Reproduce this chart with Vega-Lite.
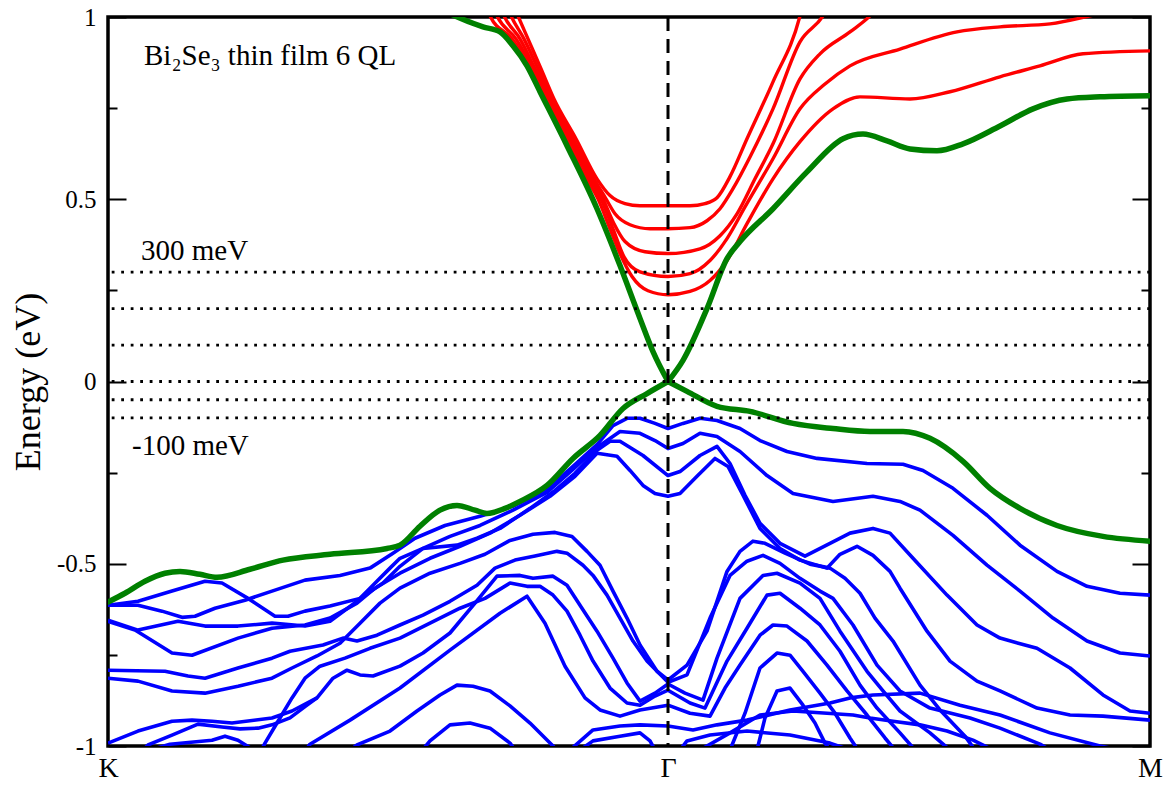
{
"$schema":"https://vega.github.io/schema/vega-lite/v6.json",
"width":1042,"height":729,"autosize":"none",
"padding":{"left":108,"top":17,"right":15,"bottom":40},
"background":"white",
"config":{"view":{"stroke":"black","strokeWidth":3.5},"font":"Liberation Serif"},
"datasets":{
"green":[
{"b":"g1a","k":0,"E":-0.605},{"b":"g1a","k":17,"E":-0.581},{"b":"g1a","k":37,"E":-0.548},{"b":"g1a","k":57,"E":-0.526},{"b":"g1a","k":72,"E":-0.521},{"b":"g1a","k":92,"E":-0.529},{"b":"g1a","k":109,"E":-0.537},{"b":"g1a","k":142,"E":-0.515},{"b":"g1a","k":175,"E":-0.49},{"b":"g1a","k":222,"E":-0.474},{"b":"g1a","k":279,"E":-0.458},{"b":"g1a","k":292,"E":-0.449},{"b":"g1a","k":312,"E":-0.397},{"b":"g1a","k":332,"E":-0.353},{"b":"g1a","k":349,"E":-0.34},{"b":"g1a","k":367,"E":-0.353},{"b":"g1a","k":379,"E":-0.362},{"b":"g1a","k":397,"E":-0.348},{"b":"g1a","k":412,"E":-0.329},{"b":"g1a","k":439,"E":-0.285},{"b":"g1a","k":465,"E":-0.211},{"b":"g1a","k":492,"E":-0.148},{"b":"g1a","k":515,"E":-0.074},{"b":"g1a","k":539,"E":-0.033},{"b":"g1a","k":560,"E":0},
{"b":"g1b","k":560,"E":0},{"b":"g1b","k":579,"E":-0.027},{"b":"g1b","k":609,"E":-0.068},{"b":"g1b","k":642,"E":-0.082},{"b":"g1b","k":685,"E":-0.115},{"b":"g1b","k":725,"E":-0.129},{"b":"g1b","k":762,"E":-0.137},{"b":"g1b","k":795,"E":-0.137},{"b":"g1b","k":822,"E":-0.156},{"b":"g1b","k":855,"E":-0.219},{"b":"g1b","k":882,"E":-0.293},{"b":"g1b","k":912,"E":-0.348},{"b":"g1b","k":949,"E":-0.395},{"b":"g1b","k":995,"E":-0.425},{"b":"g1b","k":1042,"E":-0.438},
{"b":"g2a","k":337,"E":1.016},{"b":"g2a","k":347,"E":1.003},{"b":"g2a","k":375,"E":0.973},{"b":"g2a","k":392,"E":0.959},{"b":"g2a","k":405,"E":0.921},{"b":"g2a","k":419,"E":0.866},{"b":"g2a","k":432,"E":0.795},{"b":"g2a","k":459,"E":0.647},{"b":"g2a","k":489,"E":0.474},{"b":"g2a","k":512,"E":0.318},{"b":"g2a","k":532,"E":0.173},{"b":"g2a","k":545,"E":0.082},{"b":"g2a","k":560,"E":0},
{"b":"g2b","k":560,"E":0},{"b":"g2b","k":575,"E":0.058},{"b":"g2b","k":599,"E":0.2},{"b":"g2b","k":619,"E":0.337},{"b":"g2b","k":632,"E":0.384},{"b":"g2b","k":665,"E":0.474},{"b":"g2b","k":699,"E":0.575},{"b":"g2b","k":735,"E":0.666},{"b":"g2b","k":755,"E":0.679},{"b":"g2b","k":779,"E":0.66},{"b":"g2b","k":802,"E":0.638},{"b":"g2b","k":829,"E":0.633},{"b":"g2b","k":855,"E":0.652},{"b":"g2b","k":892,"E":0.701},{"b":"g2b","k":925,"E":0.748},{"b":"g2b","k":959,"E":0.775},{"b":"g2b","k":992,"E":0.781},{"b":"g2b","k":1042,"E":0.784}
],
"red":[
{"b":"r1","k":405,"E":1.036},{"b":"r1","k":410,"E":1.003},{"b":"r1","k":420,"E":0.94},{"b":"r1","k":433,"E":0.858},{"b":"r1","k":446,"E":0.775},{"b":"r1","k":468,"E":0.666},{"b":"r1","k":489,"E":0.556},{"b":"r1","k":502,"E":0.51},{"b":"r1","k":517,"E":0.488},{"b":"r1","k":532,"E":0.482},{"b":"r1","k":560,"E":0.482},{"b":"r1","k":582,"E":0.482},{"b":"r1","k":597,"E":0.488},{"b":"r1","k":609,"E":0.504},{"b":"r1","k":622,"E":0.562},{"b":"r1","k":639,"E":0.666},{"b":"r1","k":665,"E":0.822},{"b":"r1","k":692,"E":1.003},{"b":"r1","k":695,"E":1.036},
{"b":"r2","k":398,"E":1.036},{"b":"r2","k":403,"E":1.003},{"b":"r2","k":416,"E":0.94},{"b":"r2","k":430,"E":0.858},{"b":"r2","k":444,"E":0.775},{"b":"r2","k":465,"E":0.666},{"b":"r2","k":486,"E":0.556},{"b":"r2","k":498,"E":0.501},{"b":"r2","k":507,"E":0.46},{"b":"r2","k":522,"E":0.43},{"b":"r2","k":542,"E":0.419},{"b":"r2","k":560,"E":0.419},{"b":"r2","k":582,"E":0.422},{"b":"r2","k":599,"E":0.441},{"b":"r2","k":612,"E":0.474},{"b":"r2","k":625,"E":0.529},{"b":"r2","k":642,"E":0.616},{"b":"r2","k":665,"E":0.748},{"b":"r2","k":692,"E":0.932},{"b":"r2","k":715,"E":1.003},{"b":"r2","k":720,"E":1.027},
{"b":"r3","k":391,"E":1.036},{"b":"r3","k":396,"E":1.003},{"b":"r3","k":412,"E":0.94},{"b":"r3","k":427,"E":0.858},{"b":"r3","k":442,"E":0.775},{"b":"r3","k":463,"E":0.666},{"b":"r3","k":484,"E":0.556},{"b":"r3","k":495,"E":0.501},{"b":"r3","k":506,"E":0.433},{"b":"r3","k":517,"E":0.384},{"b":"r3","k":537,"E":0.356},{"b":"r3","k":560,"E":0.351},{"b":"r3","k":592,"E":0.364},{"b":"r3","k":612,"E":0.4},{"b":"r3","k":629,"E":0.46},{"b":"r3","k":647,"E":0.556},{"b":"r3","k":665,"E":0.652},{"b":"r3","k":692,"E":0.83},{"b":"r3","k":712,"E":0.899},{"b":"r3","k":742,"E":0.959},{"b":"r3","k":762,"E":1.003},{"b":"r3","k":770,"E":1.027},
{"b":"r4","k":384,"E":1.036},{"b":"r4","k":389,"E":1.003},{"b":"r4","k":408,"E":0.94},{"b":"r4","k":425,"E":0.858},{"b":"r4","k":440,"E":0.775},{"b":"r4","k":461,"E":0.666},{"b":"r4","k":482,"E":0.556},{"b":"r4","k":493,"E":0.501},{"b":"r4","k":505,"E":0.419},{"b":"r4","k":516,"E":0.342},{"b":"r4","k":532,"E":0.301},{"b":"r4","k":560,"E":0.288},{"b":"r4","k":582,"E":0.296},{"b":"r4","k":602,"E":0.332},{"b":"r4","k":619,"E":0.392},{"b":"r4","k":637,"E":0.479},{"b":"r4","k":665,"E":0.611},{"b":"r4","k":692,"E":0.748},{"b":"r4","k":717,"E":0.816},{"b":"r4","k":742,"E":0.866},{"b":"r4","k":792,"E":0.912},{"b":"r4","k":849,"E":0.959},{"b":"r4","k":892,"E":0.973},{"b":"r4","k":942,"E":0.981},{"b":"r4","k":982,"E":1.003},{"b":"r4","k":1002,"E":1.016},
{"b":"r5","k":377,"E":1.036},{"b":"r5","k":382,"E":1.003},{"b":"r5","k":404,"E":0.94},{"b":"r5","k":423,"E":0.858},{"b":"r5","k":438,"E":0.775},{"b":"r5","k":458,"E":0.666},{"b":"r5","k":479,"E":0.556},{"b":"r5","k":490,"E":0.501},{"b":"r5","k":502,"E":0.419},{"b":"r5","k":512,"E":0.351},{"b":"r5","k":524,"E":0.288},{"b":"r5","k":540,"E":0.249},{"b":"r5","k":560,"E":0.238},{"b":"r5","k":582,"E":0.247},{"b":"r5","k":602,"E":0.277},{"b":"r5","k":619,"E":0.332},{"b":"r5","k":639,"E":0.433},{"b":"r5","k":665,"E":0.556},{"b":"r5","k":692,"E":0.658},{"b":"r5","k":725,"E":0.748},{"b":"r5","k":752,"E":0.781},{"b":"r5","k":802,"E":0.775},{"b":"r5","k":842,"E":0.795},{"b":"r5","k":892,"E":0.836},{"b":"r5","k":932,"E":0.866},{"b":"r5","k":975,"E":0.899},{"b":"r5","k":1042,"E":0.907}
],
"blue":[
{"b":"b1","k":0,"E":-0.614},{"b":"b1","k":30,"E":-0.614},{"b":"b1","k":54,"E":-0.63},{"b":"b1","k":74,"E":-0.647},{"b":"b1","k":87,"E":-0.644},{"b":"b1","k":107,"E":-0.622},{"b":"b1","k":137,"E":-0.6},{"b":"b1","k":164,"E":-0.575},{"b":"b1","k":197,"E":-0.545},{"b":"b1","k":232,"E":-0.532},{"b":"b1","k":262,"E":-0.512},{"b":"b1","k":285,"E":-0.471},{"b":"b1","k":307,"E":-0.43},{"b":"b1","k":337,"E":-0.395},{"b":"b1","k":372,"E":-0.37},{"b":"b1","k":405,"E":-0.342},{"b":"b1","k":439,"E":-0.296},{"b":"b1","k":465,"E":-0.233},{"b":"b1","k":489,"E":-0.173},{"b":"b1","k":505,"E":-0.121},{"b":"b1","k":519,"E":-0.101},{"b":"b1","k":532,"E":-0.101},{"b":"b1","k":547,"E":-0.115},{"b":"b1","k":560,"E":-0.129},{"b":"b1","k":575,"E":-0.115},{"b":"b1","k":592,"E":-0.101},{"b":"b1","k":609,"E":-0.107},{"b":"b1","k":632,"E":-0.129},{"b":"b1","k":652,"E":-0.162},{"b":"b1","k":679,"E":-0.192},{"b":"b1","k":709,"E":-0.211},{"b":"b1","k":759,"E":-0.225},{"b":"b1","k":795,"E":-0.227},{"b":"b1","k":815,"E":-0.244},{"b":"b1","k":845,"E":-0.293},{"b":"b1","k":879,"E":-0.367},{"b":"b1","k":912,"E":-0.449},{"b":"b1","k":949,"E":-0.521},{"b":"b1","k":979,"E":-0.562},{"b":"b1","k":1012,"E":-0.581},{"b":"b1","k":1042,"E":-0.586},
{"b":"b2","k":0,"E":-0.614},{"b":"b2","k":30,"E":-0.603},{"b":"b2","k":64,"E":-0.575},{"b":"b2","k":97,"E":-0.548},{"b":"b2","k":114,"E":-0.553},{"b":"b2","k":140,"E":-0.595},{"b":"b2","k":167,"E":-0.644},{"b":"b2","k":180,"E":-0.644},{"b":"b2","k":197,"E":-0.63},{"b":"b2","k":222,"E":-0.616},{"b":"b2","k":252,"E":-0.595},{"b":"b2","k":275,"E":-0.553},{"b":"b2","k":292,"E":-0.507},{"b":"b2","k":315,"E":-0.458},{"b":"b2","k":342,"E":-0.425},{"b":"b2","k":372,"E":-0.395},{"b":"b2","k":405,"E":-0.353},{"b":"b2","k":439,"E":-0.304},{"b":"b2","k":465,"E":-0.241},{"b":"b2","k":489,"E":-0.181},{"b":"b2","k":512,"E":-0.137},{"b":"b2","k":532,"E":-0.142},{"b":"b2","k":547,"E":-0.162},{"b":"b2","k":560,"E":-0.184},{"b":"b2","k":575,"E":-0.17},{"b":"b2","k":592,"E":-0.142},{"b":"b2","k":609,"E":-0.151},{"b":"b2","k":632,"E":-0.192},{"b":"b2","k":659,"E":-0.258},{"b":"b2","k":685,"E":-0.307},{"b":"b2","k":725,"E":-0.329},{"b":"b2","k":765,"E":-0.315},{"b":"b2","k":792,"E":-0.329},{"b":"b2","k":812,"E":-0.353},{"b":"b2","k":845,"E":-0.422},{"b":"b2","k":879,"E":-0.504},{"b":"b2","k":912,"E":-0.575},{"b":"b2","k":945,"E":-0.649},{"b":"b2","k":979,"E":-0.712},{"b":"b2","k":1012,"E":-0.745},{"b":"b2","k":1042,"E":-0.753},
{"b":"b3","k":0,"E":-0.655},{"b":"b3","k":30,"E":-0.682},{"b":"b3","k":70,"E":-0.658},{"b":"b3","k":97,"E":-0.671},{"b":"b3","k":130,"E":-0.671},{"b":"b3","k":164,"E":-0.663},{"b":"b3","k":197,"E":-0.671},{"b":"b3","k":222,"E":-0.658},{"b":"b3","k":249,"E":-0.603},{"b":"b3","k":262,"E":-0.567},{"b":"b3","k":282,"E":-0.512},{"b":"b3","k":292,"E":-0.485},{"b":"b3","k":315,"E":-0.458},{"b":"b3","k":349,"E":-0.449},{"b":"b3","k":369,"E":-0.43},{"b":"b3","k":392,"E":-0.403},{"b":"b3","k":422,"E":-0.348},{"b":"b3","k":447,"E":-0.299},{"b":"b3","k":467,"E":-0.252},{"b":"b3","k":489,"E":-0.189},{"b":"b3","k":502,"E":-0.164},{"b":"b3","k":512,"E":-0.164},{"b":"b3","k":535,"E":-0.203},{"b":"b3","k":560,"E":-0.258},{"b":"b3","k":572,"E":-0.247},{"b":"b3","k":592,"E":-0.203},{"b":"b3","k":609,"E":-0.178},{"b":"b3","k":622,"E":-0.225},{"b":"b3","k":637,"E":-0.312},{"b":"b3","k":652,"E":-0.389},{"b":"b3","k":672,"E":-0.444},{"b":"b3","k":697,"E":-0.479},{"b":"b3","k":722,"E":-0.444},{"b":"b3","k":742,"E":-0.416},{"b":"b3","k":765,"E":-0.403},{"b":"b3","k":782,"E":-0.416},{"b":"b3","k":805,"E":-0.485},{"b":"b3","k":839,"E":-0.586},{"b":"b3","k":869,"E":-0.668},{"b":"b3","k":892,"E":-0.704},{"b":"b3","k":929,"E":-0.732},{"b":"b3","k":962,"E":-0.786},{"b":"b3","k":995,"E":-0.86},{"b":"b3","k":1022,"E":-0.904},{"b":"b3","k":1042,"E":-0.91},
{"b":"b4","k":0,"E":-0.658},{"b":"b4","k":27,"E":-0.682},{"b":"b4","k":64,"E":-0.745},{"b":"b4","k":84,"E":-0.751},{"b":"b4","k":130,"E":-0.704},{"b":"b4","k":164,"E":-0.677},{"b":"b4","k":197,"E":-0.668},{"b":"b4","k":222,"E":-0.649},{"b":"b4","k":249,"E":-0.608},{"b":"b4","k":267,"E":-0.567},{"b":"b4","k":292,"E":-0.526},{"b":"b4","k":322,"E":-0.485},{"b":"b4","k":352,"E":-0.452},{"b":"b4","k":382,"E":-0.416},{"b":"b4","k":412,"E":-0.367},{"b":"b4","k":442,"E":-0.315},{"b":"b4","k":467,"E":-0.26},{"b":"b4","k":489,"E":-0.197},{"b":"b4","k":509,"E":-0.205},{"b":"b4","k":522,"E":-0.244},{"b":"b4","k":535,"E":-0.285},{"b":"b4","k":547,"E":-0.307},{"b":"b4","k":560,"E":-0.315},{"b":"b4","k":572,"E":-0.307},{"b":"b4","k":589,"E":-0.26},{"b":"b4","k":607,"E":-0.211},{"b":"b4","k":620,"E":-0.233},{"b":"b4","k":635,"E":-0.312},{"b":"b4","k":652,"E":-0.403},{"b":"b4","k":672,"E":-0.458},{"b":"b4","k":692,"E":-0.49},{"b":"b4","k":719,"E":-0.512},{"b":"b4","k":732,"E":-0.474},{"b":"b4","k":749,"E":-0.452},{"b":"b4","k":765,"E":-0.477},{"b":"b4","k":782,"E":-0.521},{"b":"b4","k":792,"E":-0.567},{"b":"b4","k":819,"E":-0.685},{"b":"b4","k":842,"E":-0.767},{"b":"b4","k":869,"E":-0.822},{"b":"b4","k":892,"E":-0.849},{"b":"b4","k":929,"E":-0.896},{"b":"b4","k":962,"E":-0.915},{"b":"b4","k":995,"E":-0.918},{"b":"b4","k":1042,"E":-0.929},
{"b":"b5","k":0,"E":-0.792},{"b":"b5","k":57,"E":-0.795},{"b":"b5","k":80,"E":-0.808},{"b":"b5","k":97,"E":-0.814},{"b":"b5","k":130,"E":-0.786},{"b":"b5","k":164,"E":-0.759},{"b":"b5","k":182,"E":-0.74},{"b":"b5","k":215,"E":-0.723},{"b":"b5","k":235,"E":-0.704},{"b":"b5","k":249,"E":-0.712},{"b":"b5","k":269,"E":-0.696},{"b":"b5","k":292,"E":-0.668},{"b":"b5","k":315,"E":-0.641},{"b":"b5","k":342,"E":-0.603},{"b":"b5","k":369,"E":-0.559},{"b":"b5","k":387,"E":-0.512},{"b":"b5","k":407,"E":-0.49},{"b":"b5","k":427,"E":-0.479},{"b":"b5","k":449,"E":-0.466},{"b":"b5","k":459,"E":-0.471},{"b":"b5","k":475,"E":-0.504},{"b":"b5","k":485,"E":-0.532},{"b":"b5","k":499,"E":-0.586},{"b":"b5","k":512,"E":-0.649},{"b":"b5","k":525,"E":-0.712},{"b":"b5","k":539,"E":-0.767},{"b":"b5","k":560,"E":-0.825},{"b":"b5","k":579,"E":-0.805},{"b":"b5","k":602,"E":-0.649},{"b":"b5","k":622,"E":-0.532},{"b":"b5","k":639,"E":-0.493},{"b":"b5","k":655,"E":-0.477},{"b":"b5","k":672,"E":-0.499},{"b":"b5","k":692,"E":-0.54},{"b":"b5","k":712,"E":-0.575},{"b":"b5","k":725,"E":-0.595},{"b":"b5","k":745,"E":-0.668},{"b":"b5","k":769,"E":-0.778},{"b":"b5","k":792,"E":-0.849},{"b":"b5","k":822,"E":-0.896},{"b":"b5","k":862,"E":-0.923},{"b":"b5","k":892,"E":-0.951},{"b":"b5","k":932,"E":-0.995},{"b":"b5","k":942,"E":-1.011},
{"b":"b6","k":0,"E":-0.814},{"b":"b6","k":30,"E":-0.822},{"b":"b6","k":64,"E":-0.849},{"b":"b6","k":97,"E":-0.855},{"b":"b6","k":130,"E":-0.836},{"b":"b6","k":164,"E":-0.814},{"b":"b6","k":184,"E":-0.786},{"b":"b6","k":209,"E":-0.753},{"b":"b6","k":232,"E":-0.718},{"b":"b6","k":252,"E":-0.663},{"b":"b6","k":272,"E":-0.608},{"b":"b6","k":292,"E":-0.567},{"b":"b6","k":322,"E":-0.526},{"b":"b6","k":352,"E":-0.499},{"b":"b6","k":377,"E":-0.474},{"b":"b6","k":402,"E":-0.436},{"b":"b6","k":425,"E":-0.419},{"b":"b6","k":447,"E":-0.414},{"b":"b6","k":464,"E":-0.425},{"b":"b6","k":479,"E":-0.466},{"b":"b6","k":492,"E":-0.504},{"b":"b6","k":505,"E":-0.575},{"b":"b6","k":519,"E":-0.649},{"b":"b6","k":532,"E":-0.723},{"b":"b6","k":549,"E":-0.795},{"b":"b6","k":560,"E":-0.819},{"b":"b6","k":579,"E":-0.778},{"b":"b6","k":599,"E":-0.685},{"b":"b6","k":619,"E":-0.521},{"b":"b6","k":632,"E":-0.466},{"b":"b6","k":645,"E":-0.438},{"b":"b6","k":657,"E":-0.444},{"b":"b6","k":677,"E":-0.471},{"b":"b6","k":702,"E":-0.501},{"b":"b6","k":722,"E":-0.512},{"b":"b6","k":737,"E":-0.54},{"b":"b6","k":752,"E":-0.581},{"b":"b6","k":767,"E":-0.649},{"b":"b6","k":785,"E":-0.712},{"b":"b6","k":812,"E":-0.833},{"b":"b6","k":832,"E":-0.901},{"b":"b6","k":857,"E":-0.973},{"b":"b6","k":867,"E":-1.011},
{"b":"b7","k":0,"E":-0.992},{"b":"b7","k":30,"E":-0.959},{"b":"b7","k":64,"E":-0.932},{"b":"b7","k":84,"E":-0.929},{"b":"b7","k":104,"E":-0.932},{"b":"b7","k":124,"E":-0.937},{"b":"b7","k":164,"E":-0.923},{"b":"b7","k":184,"E":-0.904},{"b":"b7","k":209,"E":-0.868},{"b":"b7","k":225,"E":-0.814},{"b":"b7","k":239,"E":-0.792},{"b":"b7","k":252,"E":-0.805},{"b":"b7","k":265,"E":-0.808},{"b":"b7","k":292,"E":-0.781},{"b":"b7","k":315,"E":-0.745},{"b":"b7","k":342,"E":-0.69},{"b":"b7","k":367,"E":-0.608},{"b":"b7","k":389,"E":-0.534},{"b":"b7","k":412,"E":-0.532},{"b":"b7","k":425,"E":-0.54},{"b":"b7","k":445,"E":-0.534},{"b":"b7","k":459,"E":-0.559},{"b":"b7","k":472,"E":-0.614},{"b":"b7","k":489,"E":-0.685},{"b":"b7","k":505,"E":-0.759},{"b":"b7","k":519,"E":-0.827},{"b":"b7","k":532,"E":-0.877},{"b":"b7","k":547,"E":-0.855},{"b":"b7","k":560,"E":-0.83},{"b":"b7","k":577,"E":-0.855},{"b":"b7","k":595,"E":-0.874},{"b":"b7","k":609,"E":-0.759},{"b":"b7","k":632,"E":-0.595},{"b":"b7","k":655,"E":-0.532},{"b":"b7","k":669,"E":-0.526},{"b":"b7","k":692,"E":-0.553},{"b":"b7","k":712,"E":-0.595},{"b":"b7","k":732,"E":-0.685},{"b":"b7","k":759,"E":-0.795},{"b":"b7","k":775,"E":-0.849},{"b":"b7","k":792,"E":-0.904},{"b":"b7","k":822,"E":-0.964},{"b":"b7","k":842,"E":-1.011},
{"b":"b8","k":152,"E":-1.019},{"b":"b8","k":157,"E":-0.992},{"b":"b8","k":170,"E":-0.932},{"b":"b8","k":184,"E":-0.868},{"b":"b8","k":197,"E":-0.814},{"b":"b8","k":212,"E":-0.781},{"b":"b8","k":237,"E":-0.759},{"b":"b8","k":262,"E":-0.732},{"b":"b8","k":292,"E":-0.704},{"b":"b8","k":322,"E":-0.663},{"b":"b8","k":352,"E":-0.622},{"b":"b8","k":377,"E":-0.595},{"b":"b8","k":402,"E":-0.553},{"b":"b8","k":419,"E":-0.562},{"b":"b8","k":432,"E":-0.562},{"b":"b8","k":445,"E":-0.586},{"b":"b8","k":459,"E":-0.63},{"b":"b8","k":472,"E":-0.696},{"b":"b8","k":485,"E":-0.767},{"b":"b8","k":502,"E":-0.841},{"b":"b8","k":519,"E":-0.882},{"b":"b8","k":532,"E":-0.888},{"b":"b8","k":547,"E":-0.863},{"b":"b8","k":560,"E":-0.847},{"b":"b8","k":582,"E":-0.882},{"b":"b8","k":597,"E":-0.896},{"b":"b8","k":619,"E":-0.767},{"b":"b8","k":639,"E":-0.677},{"b":"b8","k":659,"E":-0.586},{"b":"b8","k":672,"E":-0.581},{"b":"b8","k":692,"E":-0.622},{"b":"b8","k":712,"E":-0.668},{"b":"b8","k":732,"E":-0.74},{"b":"b8","k":752,"E":-0.833},{"b":"b8","k":769,"E":-0.896},{"b":"b8","k":792,"E":-0.964},{"b":"b8","k":807,"E":-1.011},
{"b":"b9","k":192,"E":-1.033},{"b":"b9","k":202,"E":-0.995},{"b":"b9","k":242,"E":-0.929},{"b":"b9","k":292,"E":-0.841},{"b":"b9","k":342,"E":-0.737},{"b":"b9","k":392,"E":-0.636},{"b":"b9","k":419,"E":-0.589},{"b":"b9","k":437,"E":-0.663},{"b":"b9","k":457,"E":-0.781},{"b":"b9","k":477,"E":-0.868},{"b":"b9","k":492,"E":-0.901},{"b":"b9","k":512,"E":-0.918},{"b":"b9","k":532,"E":-0.901},{"b":"b9","k":560,"E":-0.888},{"b":"b9","k":582,"E":-0.91},{"b":"b9","k":602,"E":-0.918},{"b":"b9","k":617,"E":-0.841},{"b":"b9","k":632,"E":-0.778},{"b":"b9","k":652,"E":-0.696},{"b":"b9","k":665,"E":-0.668},{"b":"b9","k":679,"E":-0.671},{"b":"b9","k":699,"E":-0.712},{"b":"b9","k":719,"E":-0.778},{"b":"b9","k":739,"E":-0.849},{"b":"b9","k":759,"E":-0.915},{"b":"b9","k":777,"E":-0.978},{"b":"b9","k":787,"E":-1.011},
{"b":"b10","k":232,"E":-1.033},{"b":"b10","k":249,"E":-0.997},{"b":"b10","k":282,"E":-0.959},{"b":"b10","k":309,"E":-0.904},{"b":"b10","k":332,"E":-0.86},{"b":"b10","k":349,"E":-0.833},{"b":"b10","k":365,"E":-0.836},{"b":"b10","k":382,"E":-0.849},{"b":"b10","k":402,"E":-0.89},{"b":"b10","k":422,"E":-0.937},{"b":"b10","k":442,"E":-0.992},{"b":"b10","k":452,"E":-1.019},
{"b":"b11","k":312,"E":-1.019},{"b":"b11","k":322,"E":-0.986},{"b":"b11","k":342,"E":-0.942},{"b":"b11","k":362,"E":-0.937},{"b":"b11","k":382,"E":-0.951},{"b":"b11","k":402,"E":-0.992},{"b":"b11","k":407,"E":-1.011},
{"b":"b12","k":32,"E":-1.019},{"b":"b12","k":40,"E":-0.997},{"b":"b12","k":64,"E":-0.97},{"b":"b12","k":90,"E":-0.94},{"b":"b12","k":114,"E":-0.948},{"b":"b12","k":132,"E":-0.953},{"b":"b12","k":150,"E":-0.951},{"b":"b12","k":164,"E":-0.942},{"b":"b12","k":182,"E":-0.923},{"b":"b12","k":198,"E":-0.89},{"b":"b12","k":209,"E":-0.868},
{"b":"b13","k":42,"E":-1.011},{"b":"b13","k":62,"E":-0.995},{"b":"b13","k":104,"E":-0.984},{"b":"b13","k":117,"E":-0.973},{"b":"b13","k":130,"E":-0.984},{"b":"b13","k":142,"E":-1.005},
{"b":"b16","k":462,"E":-1.011},{"b":"b16","k":485,"E":-0.956},{"b":"b16","k":512,"E":-0.945},{"b":"b16","k":532,"E":-0.942},{"b":"b16","k":560,"E":-0.945},{"b":"b16","k":585,"E":-0.956},{"b":"b16","k":609,"E":-0.942},{"b":"b16","k":639,"E":-0.929},{"b":"b16","k":682,"E":-0.901},{"b":"b16","k":722,"E":-0.882},{"b":"b16","k":742,"E":-0.868},{"b":"b16","k":765,"E":-0.86},{"b":"b16","k":812,"E":-0.855},{"b":"b16","k":852,"E":-0.888},{"b":"b16","k":892,"E":-0.915},{"b":"b16","k":942,"E":-0.964},{"b":"b16","k":992,"E":-1.0},{"b":"b16","k":1012,"E":-1.011},
{"b":"b17","k":592,"E":-1.011},{"b":"b17","k":622,"E":-0.964},{"b":"b17","k":652,"E":-0.915},{"b":"b17","k":685,"E":-0.904},{"b":"b17","k":719,"E":-0.91},{"b":"b17","k":745,"E":-0.915},{"b":"b17","k":762,"E":-0.923},{"b":"b17","k":785,"E":-0.932},{"b":"b17","k":812,"E":-0.942},{"b":"b17","k":839,"E":-0.959},{"b":"b17","k":865,"E":-0.984},{"b":"b17","k":885,"E":-1.011},
{"b":"b19","k":472,"E":-1.011},{"b":"b19","k":485,"E":-0.986},{"b":"b19","k":512,"E":-0.973},{"b":"b19","k":532,"E":-0.964},{"b":"b19","k":542,"E":-0.986},{"b":"b19","k":547,"E":-1.011},
{"b":"b20","k":572,"E":-1.011},{"b":"b20","k":579,"E":-0.986},{"b":"b20","k":602,"E":-0.97},{"b":"b20","k":639,"E":-0.959},{"b":"b20","k":682,"E":-0.97},{"b":"b20","k":722,"E":-0.992},{"b":"b20","k":742,"E":-1.011},
{"b":"b21","k":622,"E":-1.011},{"b":"b21","k":637,"E":-0.91},{"b":"b21","k":652,"E":-0.786},{"b":"b21","k":669,"E":-0.745},{"b":"b21","k":682,"E":-0.751},{"b":"b21","k":695,"E":-0.795},{"b":"b21","k":712,"E":-0.855},{"b":"b21","k":727,"E":-0.91},{"b":"b21","k":742,"E":-0.978},{"b":"b21","k":750,"E":-1.011},
{"b":"b22","k":649,"E":-1.011},{"b":"b22","k":657,"E":-0.923},{"b":"b22","k":669,"E":-0.849},{"b":"b22","k":682,"E":-0.841},{"b":"b22","k":695,"E":-0.888},{"b":"b22","k":707,"E":-0.937},{"b":"b22","k":717,"E":-0.992},{"b":"b22","k":722,"E":-1.011}
],
"levels":[{"E":0.3},{"E":0.2},{"E":0.1},{"E":0},{"E":-0.05},{"E":-0.1}],
"gamma":[{"k":560}],
"notes":[{"k":36,"E":0.867,"label":"Bi₂Se₃ thin film 6 QL"},{"k":33,"E":0.332,"label":"300 meV"},{"k":24,"E":-0.202,"label":"-100 meV"}]
},
"layer":[
{"data":{"name":"blue"},"mark":{"type":"line","color":"#0000ff","strokeWidth":3.6,"clip":true,"strokeJoin":"round"},
"encoding":{
"x":{"field":"k","type":"quantitative","scale":{"domain":[0,1042],"nice":false,"zero":false},"axis":{"values":[0,560,1042],"labelExpr":"datum.value==0?'K':(datum.value==560?'Γ':'M')","title":null,"ticks":false,"domain":false,"grid":false,"labelFontSize":28,"labelFont":"Liberation Serif","labelColor":"black","labelPadding":8,"labelFlush":false}},
"y":{"field":"E","type":"quantitative","scale":{"domain":[-1,1],"nice":false,"zero":false},"axis":{"orient":"left","values":[-1,-0.75,-0.5,-0.25,0,0.25,0.5,0.75,1],"labelExpr":"abs(datum.value*2-round(datum.value*2))<0.01 ? toString(datum.value) : ''","labelOverlap":false,"tickSize":-18,"tickDash":{"condition":{"test":"abs(datum.value*2-round(datum.value*2))<0.01","value":[40,1]},"value":[9,40]},"tickColor":"black","tickWidth":2,"domain":false,"grid":false,"labelFontSize":25,"labelFont":"Liberation Serif","labelColor":"black","labelPadding":30,"title":"Energy (eV)","titleFont":"Liberation Serif","titleFontSize":36,"titleFontWeight":"normal","titleColor":"black","titlePadding":9}},
"detail":{"field":"b"}}},
{"data":{"name":"red"},"mark":{"type":"line","color":"#ff0000","strokeWidth":3.4,"clip":true,"interpolate":"monotone"},
"encoding":{
"x":{"field":"k","type":"quantitative","scale":{"domain":[0,1042],"nice":false,"zero":false}},
"y":{"field":"E","type":"quantitative","scale":{"domain":[-1,1],"nice":false,"zero":false},"axis":null},
"detail":{"field":"b"}}},
{"data":{"name":"green"},"mark":{"type":"line","color":"#008000","strokeWidth":5.5,"clip":true,"interpolate":"monotone","strokeCap":"round"},
"encoding":{
"x":{"field":"k","type":"quantitative","scale":{"domain":[0,1042],"nice":false,"zero":false}},
"y":{"field":"E","type":"quantitative","scale":{"domain":[-1,1],"nice":false,"zero":false},"axis":null},
"detail":{"field":"b"}}},
{"data":{"name":"levels"},"mark":{"type":"rule","color":"black","strokeWidth":2.8,"strokeDash":[2.8,6.7]},
"encoding":{"y":{"field":"E","type":"quantitative","scale":{"domain":[-1,1],"nice":false,"zero":false},"axis":{"orient":"right","values":[-1,-0.75,-0.5,-0.25,0,0.25,0.5,0.75,1],"labels":false,"title":null,"tickSize":-18,"tickDash":{"condition":{"test":"abs(datum.value*2-round(datum.value*2))<0.01","value":[40,1]},"value":[9,40]},"tickColor":"black","tickWidth":2,"domain":false,"grid":false}}}},
{"data":{"name":"gamma"},"mark":{"type":"rule","color":"black","strokeWidth":3,"strokeDash":[14,8]},
"encoding":{"x":{"field":"k","type":"quantitative","scale":{"domain":[0,1042],"nice":false,"zero":false}}}},
{"data":{"name":"notes"},"mark":{"type":"text","align":"left","baseline":"alphabetic","font":"Liberation Serif","fontSize":29,"color":"black"},
"encoding":{
"x":{"field":"k","type":"quantitative","scale":{"domain":[0,1042],"nice":false,"zero":false}},
"y":{"field":"E","type":"quantitative","scale":{"domain":[-1,1],"nice":false,"zero":false},"axis":null},
"text":{"field":"label"}}}
],
"resolve":{"axis":{"y":"independent"}}
}
